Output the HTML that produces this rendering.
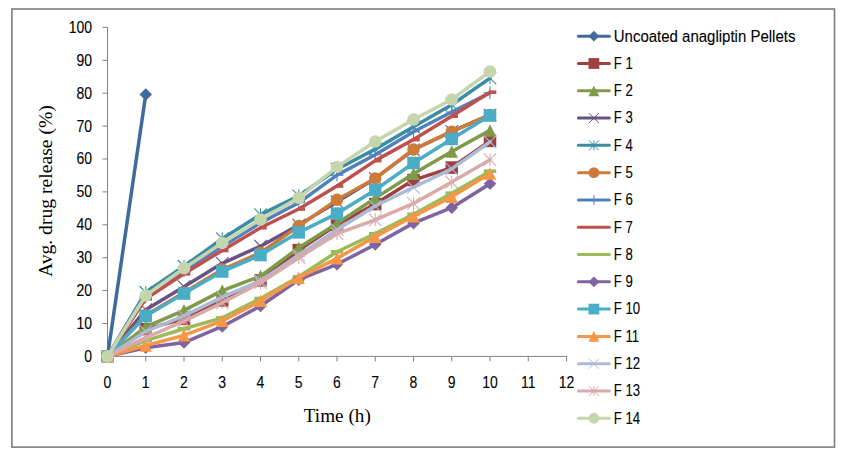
<!DOCTYPE html>
<html lang="en">
<head>
<meta charset="utf-8">
<title>Avg. drug release (%) vs Time (h)</title>
<style>html,body{margin:0;padding:0;background:#fff;overflow:hidden}body{width:842px;height:455px}</style>
</head>
<body>
<svg width="842" height="455" viewBox="0 0 842 455" style="display:block">
<rect x="0" y="0" width="842" height="455" fill="#ffffff"/>
<rect x="11.9" y="9" width="822.6" height="438.1" fill="none" stroke="#7C7C7C" stroke-width="1.6"/>
<g stroke="#808080" stroke-width="1" fill="none">
<path d="M107.50 27.40V356.40H566.50"/>
<path d="M102.50 356.40H107.50"/>
<path d="M102.50 323.50H107.50"/>
<path d="M102.50 290.60H107.50"/>
<path d="M102.50 257.70H107.50"/>
<path d="M102.50 224.80H107.50"/>
<path d="M102.50 191.90H107.50"/>
<path d="M102.50 159.00H107.50"/>
<path d="M102.50 126.10H107.50"/>
<path d="M102.50 93.20H107.50"/>
<path d="M102.50 60.30H107.50"/>
<path d="M102.50 27.40H107.50"/>
<path d="M107.50 356.40V361.40"/>
<path d="M145.75 356.40V361.40"/>
<path d="M184.00 356.40V361.40"/>
<path d="M222.25 356.40V361.40"/>
<path d="M260.50 356.40V361.40"/>
<path d="M298.75 356.40V361.40"/>
<path d="M337.00 356.40V361.40"/>
<path d="M375.25 356.40V361.40"/>
<path d="M413.50 356.40V361.40"/>
<path d="M451.75 356.40V361.40"/>
<path d="M490.00 356.40V361.40"/>
<path d="M528.25 356.40V361.40"/>
<path d="M566.50 356.40V361.40"/>
</g>
<g font-family="'Liberation Sans', sans-serif" font-size="15.9" fill="#000" stroke="#000" stroke-width="0.1">
<text transform="translate(92.0,361.80) scale(0.88,1)" text-anchor="end">0</text>
<text transform="translate(92.0,328.90) scale(0.88,1)" text-anchor="end">10</text>
<text transform="translate(92.0,296.00) scale(0.88,1)" text-anchor="end">20</text>
<text transform="translate(92.0,263.10) scale(0.88,1)" text-anchor="end">30</text>
<text transform="translate(92.0,230.20) scale(0.88,1)" text-anchor="end">40</text>
<text transform="translate(92.0,197.30) scale(0.88,1)" text-anchor="end">50</text>
<text transform="translate(92.0,164.40) scale(0.88,1)" text-anchor="end">60</text>
<text transform="translate(92.0,131.50) scale(0.88,1)" text-anchor="end">70</text>
<text transform="translate(92.0,98.60) scale(0.88,1)" text-anchor="end">80</text>
<text transform="translate(92.0,65.70) scale(0.88,1)" text-anchor="end">90</text>
<text transform="translate(92.0,32.80) scale(0.88,1)" text-anchor="end">100</text>
<text transform="translate(107.50,387.8) scale(0.88,1)" text-anchor="middle">0</text>
<text transform="translate(145.75,387.8) scale(0.88,1)" text-anchor="middle">1</text>
<text transform="translate(184.00,387.8) scale(0.88,1)" text-anchor="middle">2</text>
<text transform="translate(222.25,387.8) scale(0.88,1)" text-anchor="middle">3</text>
<text transform="translate(260.50,387.8) scale(0.88,1)" text-anchor="middle">4</text>
<text transform="translate(298.75,387.8) scale(0.88,1)" text-anchor="middle">5</text>
<text transform="translate(337.00,387.8) scale(0.88,1)" text-anchor="middle">6</text>
<text transform="translate(375.25,387.8) scale(0.88,1)" text-anchor="middle">7</text>
<text transform="translate(413.50,387.8) scale(0.88,1)" text-anchor="middle">8</text>
<text transform="translate(451.75,387.8) scale(0.88,1)" text-anchor="middle">9</text>
<text transform="translate(490.00,387.8) scale(0.88,1)" text-anchor="middle">10</text>
<text transform="translate(528.25,387.8) scale(0.88,1)" text-anchor="middle">11</text>
<text transform="translate(566.50,387.8) scale(0.88,1)" text-anchor="middle">12</text>
</g>
<g font-family="'Liberation Serif', serif" fill="#000">
<text x="337.3" y="421.9" font-size="19.2" text-anchor="middle">Time (h)</text>
<text transform="translate(52,191.1) rotate(-90)" font-size="19.65" text-anchor="middle">Avg. drug release (%)</text>
</g>
<g><polyline points="107.50,356.40 145.75,94.52" fill="none" stroke="#406A9C" stroke-width="3.5" stroke-linejoin="round" stroke-linecap="round"/>
<path d="M107.50 350.15L113.75 356.40L107.50 362.65L101.25 356.40Z" fill="#406A9C"/>
<path d="M145.75 88.27L152.00 94.52L145.75 100.77L139.50 94.52Z" fill="#406A9C"/>
</g>
<g><polyline points="107.50,356.40 145.75,329.09 184.00,318.89 222.25,300.47 260.50,280.40 298.75,250.13 337.00,224.80 375.25,204.07 413.50,180.06 451.75,167.55 490.00,140.90" fill="none" stroke="#9E413E" stroke-width="3.5" stroke-linejoin="round" stroke-linecap="round"/>
<rect x="101.25" y="350.15" width="12.50" height="12.50" fill="#9E413E"/>
<rect x="139.50" y="322.84" width="12.50" height="12.50" fill="#9E413E"/>
<rect x="177.75" y="312.64" width="12.50" height="12.50" fill="#9E413E"/>
<rect x="216.00" y="294.22" width="12.50" height="12.50" fill="#9E413E"/>
<rect x="254.25" y="274.15" width="12.50" height="12.50" fill="#9E413E"/>
<rect x="292.50" y="243.88" width="12.50" height="12.50" fill="#9E413E"/>
<rect x="330.75" y="218.55" width="12.50" height="12.50" fill="#9E413E"/>
<rect x="369.00" y="197.82" width="12.50" height="12.50" fill="#9E413E"/>
<rect x="407.25" y="173.81" width="12.50" height="12.50" fill="#9E413E"/>
<rect x="445.50" y="161.30" width="12.50" height="12.50" fill="#9E413E"/>
<rect x="483.75" y="134.65" width="12.50" height="12.50" fill="#9E413E"/>
</g>
<g><polyline points="107.50,356.40 145.75,326.79 184.00,310.34 222.25,290.60 260.50,276.12 298.75,247.83 337.00,223.48 375.25,198.15 413.50,173.80 451.75,151.43 490.00,130.38" fill="none" stroke="#7F9A48" stroke-width="3.5" stroke-linejoin="round" stroke-linecap="round"/>
<path d="M107.50 350.15L113.75 362.65L101.25 362.65Z" fill="#7F9A48"/>
<path d="M145.75 320.54L152.00 333.04L139.50 333.04Z" fill="#7F9A48"/>
<path d="M184.00 304.09L190.25 316.59L177.75 316.59Z" fill="#7F9A48"/>
<path d="M222.25 284.35L228.50 296.85L216.00 296.85Z" fill="#7F9A48"/>
<path d="M260.50 269.87L266.75 282.37L254.25 282.37Z" fill="#7F9A48"/>
<path d="M298.75 241.58L305.00 254.08L292.50 254.08Z" fill="#7F9A48"/>
<path d="M337.00 217.23L343.25 229.73L330.75 229.73Z" fill="#7F9A48"/>
<path d="M375.25 191.90L381.50 204.40L369.00 204.40Z" fill="#7F9A48"/>
<path d="M413.50 167.55L419.75 180.05L407.25 180.05Z" fill="#7F9A48"/>
<path d="M451.75 145.18L458.00 157.68L445.50 157.68Z" fill="#7F9A48"/>
<path d="M490.00 124.13L496.25 136.63L483.75 136.63Z" fill="#7F9A48"/>
</g>
<g><polyline points="107.50,356.40 145.75,309.68 184.00,286.65 222.25,263.29 260.50,246.18 298.75,225.13 337.00,201.77 375.25,178.41 413.50,149.79 451.75,131.36 490.00,114.91" fill="none" stroke="#695185" stroke-width="3.5" stroke-linejoin="round" stroke-linecap="round"/>
<path d="M101.25 350.15L113.75 362.65M113.75 350.15L101.25 362.65" stroke="#695185" stroke-width="1.1" fill="none"/>
<path d="M139.50 303.43L152.00 315.93M152.00 303.43L139.50 315.93" stroke="#695185" stroke-width="1.1" fill="none"/>
<path d="M177.75 280.40L190.25 292.90M190.25 280.40L177.75 292.90" stroke="#695185" stroke-width="1.1" fill="none"/>
<path d="M216.00 257.04L228.50 269.54M228.50 257.04L216.00 269.54" stroke="#695185" stroke-width="1.1" fill="none"/>
<path d="M254.25 239.93L266.75 252.43M266.75 239.93L254.25 252.43" stroke="#695185" stroke-width="1.1" fill="none"/>
<path d="M292.50 218.88L305.00 231.38M305.00 218.88L292.50 231.38" stroke="#695185" stroke-width="1.1" fill="none"/>
<path d="M330.75 195.52L343.25 208.02M343.25 195.52L330.75 208.02" stroke="#695185" stroke-width="1.1" fill="none"/>
<path d="M369.00 172.16L381.50 184.66M381.50 172.16L369.00 184.66" stroke="#695185" stroke-width="1.1" fill="none"/>
<path d="M407.25 143.54L419.75 156.04M419.75 143.54L407.25 156.04" stroke="#695185" stroke-width="1.1" fill="none"/>
<path d="M445.50 125.11L458.00 137.61M458.00 125.11L445.50 137.61" stroke="#695185" stroke-width="1.1" fill="none"/>
<path d="M483.75 108.66L496.25 121.16M496.25 108.66L483.75 121.16" stroke="#695185" stroke-width="1.1" fill="none"/>
</g>
<g><polyline points="107.50,356.40 145.75,292.25 184.00,266.25 222.25,238.62 260.50,214.60 298.75,195.85 337.00,169.20 375.25,149.13 413.50,126.76 451.75,104.71 490.00,78.07" fill="none" stroke="#3C8DA3" stroke-width="3.5" stroke-linejoin="round" stroke-linecap="round"/>
<path d="M101.25 350.15L113.75 362.65M113.75 350.15L101.25 362.65M107.50 350.15L107.50 362.65" stroke="#3C8DA3" stroke-width="1.1" fill="none"/>
<path d="M139.50 286.00L152.00 298.50M152.00 286.00L139.50 298.50M145.75 286.00L145.75 298.50" stroke="#3C8DA3" stroke-width="1.1" fill="none"/>
<path d="M177.75 260.00L190.25 272.50M190.25 260.00L177.75 272.50M184.00 260.00L184.00 272.50" stroke="#3C8DA3" stroke-width="1.1" fill="none"/>
<path d="M216.00 232.37L228.50 244.87M228.50 232.37L216.00 244.87M222.25 232.37L222.25 244.87" stroke="#3C8DA3" stroke-width="1.1" fill="none"/>
<path d="M254.25 208.35L266.75 220.85M266.75 208.35L254.25 220.85M260.50 208.35L260.50 220.85" stroke="#3C8DA3" stroke-width="1.1" fill="none"/>
<path d="M292.50 189.60L305.00 202.10M305.00 189.60L292.50 202.10M298.75 189.60L298.75 202.10" stroke="#3C8DA3" stroke-width="1.1" fill="none"/>
<path d="M330.75 162.95L343.25 175.45M343.25 162.95L330.75 175.45M337.00 162.95L337.00 175.45" stroke="#3C8DA3" stroke-width="1.1" fill="none"/>
<path d="M369.00 142.88L381.50 155.38M381.50 142.88L369.00 155.38M375.25 142.88L375.25 155.38" stroke="#3C8DA3" stroke-width="1.1" fill="none"/>
<path d="M407.25 120.51L419.75 133.01M419.75 120.51L407.25 133.01M413.50 120.51L413.50 133.01" stroke="#3C8DA3" stroke-width="1.1" fill="none"/>
<path d="M445.50 98.46L458.00 110.96M458.00 98.46L445.50 110.96M451.75 98.46L451.75 110.96" stroke="#3C8DA3" stroke-width="1.1" fill="none"/>
<path d="M483.75 71.82L496.25 84.32M496.25 71.82L483.75 84.32M490.00 71.82L490.00 84.32" stroke="#3C8DA3" stroke-width="1.1" fill="none"/>
</g>
<g><polyline points="107.50,356.40 145.75,315.27 184.00,292.57 222.25,269.54 260.50,252.76 298.75,226.12 337.00,199.80 375.25,178.41 413.50,149.46 451.75,131.69 490.00,114.91" fill="none" stroke="#CC7B38" stroke-width="3.5" stroke-linejoin="round" stroke-linecap="round"/>
<circle cx="107.50" cy="356.40" r="6.25" fill="#CC7B38"/>
<circle cx="145.75" cy="315.27" r="6.25" fill="#CC7B38"/>
<circle cx="184.00" cy="292.57" r="6.25" fill="#CC7B38"/>
<circle cx="222.25" cy="269.54" r="6.25" fill="#CC7B38"/>
<circle cx="260.50" cy="252.76" r="6.25" fill="#CC7B38"/>
<circle cx="298.75" cy="226.12" r="6.25" fill="#CC7B38"/>
<circle cx="337.00" cy="199.80" r="6.25" fill="#CC7B38"/>
<circle cx="375.25" cy="178.41" r="6.25" fill="#CC7B38"/>
<circle cx="413.50" cy="149.46" r="6.25" fill="#CC7B38"/>
<circle cx="451.75" cy="131.69" r="6.25" fill="#CC7B38"/>
<circle cx="490.00" cy="114.91" r="6.25" fill="#CC7B38"/>
</g>
<g><polyline points="107.50,356.40 145.75,297.18 184.00,270.86 222.25,246.18 260.50,222.83 298.75,202.76 337.00,175.12 375.25,154.72 413.50,131.69 451.75,111.95 490.00,92.87" fill="none" stroke="#4F81BD" stroke-width="3.5" stroke-linejoin="round" stroke-linecap="round"/>
<path d="M107.50 350.15L107.50 362.65M101.25 356.40L113.75 356.40" stroke="#4F81BD" stroke-width="1.1" fill="none"/>
<path d="M145.75 290.93L145.75 303.43M139.50 297.18L152.00 297.18" stroke="#4F81BD" stroke-width="1.1" fill="none"/>
<path d="M184.00 264.61L184.00 277.11M177.75 270.86L190.25 270.86" stroke="#4F81BD" stroke-width="1.1" fill="none"/>
<path d="M222.25 239.93L222.25 252.43M216.00 246.18L228.50 246.18" stroke="#4F81BD" stroke-width="1.1" fill="none"/>
<path d="M260.50 216.58L260.50 229.08M254.25 222.83L266.75 222.83" stroke="#4F81BD" stroke-width="1.1" fill="none"/>
<path d="M298.75 196.51L298.75 209.01M292.50 202.76L305.00 202.76" stroke="#4F81BD" stroke-width="1.1" fill="none"/>
<path d="M337.00 168.87L337.00 181.37M330.75 175.12L343.25 175.12" stroke="#4F81BD" stroke-width="1.1" fill="none"/>
<path d="M375.25 148.47L375.25 160.97M369.00 154.72L381.50 154.72" stroke="#4F81BD" stroke-width="1.1" fill="none"/>
<path d="M413.50 125.44L413.50 137.94M407.25 131.69L419.75 131.69" stroke="#4F81BD" stroke-width="1.1" fill="none"/>
<path d="M451.75 105.70L451.75 118.20M445.50 111.95L458.00 111.95" stroke="#4F81BD" stroke-width="1.1" fill="none"/>
<path d="M490.00 86.62L490.00 99.12M483.75 92.87L496.25 92.87" stroke="#4F81BD" stroke-width="1.1" fill="none"/>
</g>
<g><polyline points="107.50,356.40 145.75,298.82 184.00,273.82 222.25,250.46 260.50,227.76 298.75,209.01 337.00,185.98 375.25,160.64 413.50,139.59 451.75,116.23 490.00,92.21" fill="none" stroke="#C0504D" stroke-width="3.5" stroke-linejoin="round" stroke-linecap="round"/>
<rect x="106.50" y="354.60" width="7.25" height="3.6" fill="#C0504D"/>
<rect x="144.75" y="297.02" width="7.25" height="3.6" fill="#C0504D"/>
<rect x="183.00" y="272.02" width="7.25" height="3.6" fill="#C0504D"/>
<rect x="221.25" y="248.66" width="7.25" height="3.6" fill="#C0504D"/>
<rect x="259.50" y="225.96" width="7.25" height="3.6" fill="#C0504D"/>
<rect x="297.75" y="207.21" width="7.25" height="3.6" fill="#C0504D"/>
<rect x="336.00" y="184.18" width="7.25" height="3.6" fill="#C0504D"/>
<rect x="374.25" y="158.84" width="7.25" height="3.6" fill="#C0504D"/>
<rect x="412.50" y="137.79" width="7.25" height="3.6" fill="#C0504D"/>
<rect x="450.75" y="114.43" width="7.25" height="3.6" fill="#C0504D"/>
<rect x="489.00" y="90.41" width="7.25" height="3.6" fill="#C0504D"/>
</g>
<g><polyline points="107.50,356.40 145.75,340.61 184.00,328.76 222.25,317.91 260.50,298.50 298.75,276.78 337.00,251.78 375.25,233.68 413.50,214.27 451.75,193.22 490.00,171.17" fill="none" stroke="#9BBB59" stroke-width="3.5" stroke-linejoin="round" stroke-linecap="round"/>
<rect x="101.25" y="354.60" width="12.50" height="3.6" fill="#9BBB59"/>
<rect x="139.50" y="338.81" width="12.50" height="3.6" fill="#9BBB59"/>
<rect x="177.75" y="326.96" width="12.50" height="3.6" fill="#9BBB59"/>
<rect x="216.00" y="316.11" width="12.50" height="3.6" fill="#9BBB59"/>
<rect x="254.25" y="296.70" width="12.50" height="3.6" fill="#9BBB59"/>
<rect x="292.50" y="274.98" width="12.50" height="3.6" fill="#9BBB59"/>
<rect x="330.75" y="249.98" width="12.50" height="3.6" fill="#9BBB59"/>
<rect x="369.00" y="231.88" width="12.50" height="3.6" fill="#9BBB59"/>
<rect x="407.25" y="212.47" width="12.50" height="3.6" fill="#9BBB59"/>
<rect x="445.50" y="191.42" width="12.50" height="3.6" fill="#9BBB59"/>
<rect x="483.75" y="169.37" width="12.50" height="3.6" fill="#9BBB59"/>
</g>
<g><polyline points="107.50,356.40 145.75,347.85 184.00,342.58 222.25,326.46 260.50,306.06 298.75,279.74 337.00,264.28 375.25,244.54 413.50,223.15 451.75,207.69 490.00,183.67" fill="none" stroke="#8064A2" stroke-width="3.5" stroke-linejoin="round" stroke-linecap="round"/>
<path d="M107.50 350.15L113.75 356.40L107.50 362.65L101.25 356.40Z" fill="#8064A2"/>
<path d="M145.75 341.60L152.00 347.85L145.75 354.10L139.50 347.85Z" fill="#8064A2"/>
<path d="M184.00 336.33L190.25 342.58L184.00 348.83L177.75 342.58Z" fill="#8064A2"/>
<path d="M222.25 320.21L228.50 326.46L222.25 332.71L216.00 326.46Z" fill="#8064A2"/>
<path d="M260.50 299.81L266.75 306.06L260.50 312.31L254.25 306.06Z" fill="#8064A2"/>
<path d="M298.75 273.49L305.00 279.74L298.75 285.99L292.50 279.74Z" fill="#8064A2"/>
<path d="M337.00 258.03L343.25 264.28L337.00 270.53L330.75 264.28Z" fill="#8064A2"/>
<path d="M375.25 238.29L381.50 244.54L375.25 250.79L369.00 244.54Z" fill="#8064A2"/>
<path d="M413.50 216.90L419.75 223.15L413.50 229.40L407.25 223.15Z" fill="#8064A2"/>
<path d="M451.75 201.44L458.00 207.69L451.75 213.94L445.50 207.69Z" fill="#8064A2"/>
<path d="M490.00 177.42L496.25 183.67L490.00 189.92L483.75 183.67Z" fill="#8064A2"/>
</g>
<g><polyline points="107.50,356.40 145.75,315.93 184.00,293.56 222.25,271.52 260.50,255.07 298.75,232.37 337.00,213.61 375.25,189.93 413.50,162.95 451.75,138.93 490.00,115.57" fill="none" stroke="#4BACC6" stroke-width="3.5" stroke-linejoin="round" stroke-linecap="round"/>
<rect x="101.25" y="350.15" width="12.50" height="12.50" fill="#4BACC6"/>
<rect x="139.50" y="309.68" width="12.50" height="12.50" fill="#4BACC6"/>
<rect x="177.75" y="287.31" width="12.50" height="12.50" fill="#4BACC6"/>
<rect x="216.00" y="265.27" width="12.50" height="12.50" fill="#4BACC6"/>
<rect x="254.25" y="248.82" width="12.50" height="12.50" fill="#4BACC6"/>
<rect x="292.50" y="226.12" width="12.50" height="12.50" fill="#4BACC6"/>
<rect x="330.75" y="207.36" width="12.50" height="12.50" fill="#4BACC6"/>
<rect x="369.00" y="183.68" width="12.50" height="12.50" fill="#4BACC6"/>
<rect x="407.25" y="156.70" width="12.50" height="12.50" fill="#4BACC6"/>
<rect x="445.50" y="132.68" width="12.50" height="12.50" fill="#4BACC6"/>
<rect x="483.75" y="109.32" width="12.50" height="12.50" fill="#4BACC6"/>
</g>
<g><polyline points="107.50,356.40 145.75,345.54 184.00,335.34 222.25,320.87 260.50,300.80 298.75,277.77 337.00,258.36 375.25,236.64 413.50,216.25 451.75,196.83 490.00,173.48" fill="none" stroke="#F79646" stroke-width="3.5" stroke-linejoin="round" stroke-linecap="round"/>
<path d="M107.50 350.15L113.75 362.65L101.25 362.65Z" fill="#F79646"/>
<path d="M145.75 339.29L152.00 351.79L139.50 351.79Z" fill="#F79646"/>
<path d="M184.00 329.09L190.25 341.59L177.75 341.59Z" fill="#F79646"/>
<path d="M222.25 314.62L228.50 327.12L216.00 327.12Z" fill="#F79646"/>
<path d="M260.50 294.55L266.75 307.05L254.25 307.05Z" fill="#F79646"/>
<path d="M298.75 271.52L305.00 284.02L292.50 284.02Z" fill="#F79646"/>
<path d="M337.00 252.11L343.25 264.61L330.75 264.61Z" fill="#F79646"/>
<path d="M375.25 230.39L381.50 242.89L369.00 242.89Z" fill="#F79646"/>
<path d="M413.50 210.00L419.75 222.50L407.25 222.50Z" fill="#F79646"/>
<path d="M451.75 190.58L458.00 203.08L445.50 203.08Z" fill="#F79646"/>
<path d="M490.00 167.23L496.25 179.73L483.75 179.73Z" fill="#F79646"/>
</g>
<g><polyline points="107.50,356.40 145.75,331.40 184.00,315.93 222.25,297.18 260.50,280.73 298.75,255.07 337.00,229.73 375.25,206.05 413.50,187.29 451.75,168.87 490.00,141.89" fill="none" stroke="#AABAD7" stroke-width="3.5" stroke-linejoin="round" stroke-linecap="round"/>
<path d="M101.25 350.15L113.75 362.65M113.75 350.15L101.25 362.65" stroke="#AABAD7" stroke-width="1.1" fill="none"/>
<path d="M139.50 325.15L152.00 337.65M152.00 325.15L139.50 337.65" stroke="#AABAD7" stroke-width="1.1" fill="none"/>
<path d="M177.75 309.68L190.25 322.18M190.25 309.68L177.75 322.18" stroke="#AABAD7" stroke-width="1.1" fill="none"/>
<path d="M216.00 290.93L228.50 303.43M228.50 290.93L216.00 303.43" stroke="#AABAD7" stroke-width="1.1" fill="none"/>
<path d="M254.25 274.48L266.75 286.98M266.75 274.48L254.25 286.98" stroke="#AABAD7" stroke-width="1.1" fill="none"/>
<path d="M292.50 248.82L305.00 261.32M305.00 248.82L292.50 261.32" stroke="#AABAD7" stroke-width="1.1" fill="none"/>
<path d="M330.75 223.48L343.25 235.98M343.25 223.48L330.75 235.98" stroke="#AABAD7" stroke-width="1.1" fill="none"/>
<path d="M369.00 199.80L381.50 212.30M381.50 199.80L369.00 212.30" stroke="#AABAD7" stroke-width="1.1" fill="none"/>
<path d="M407.25 181.04L419.75 193.54M419.75 181.04L407.25 193.54" stroke="#AABAD7" stroke-width="1.1" fill="none"/>
<path d="M445.50 162.62L458.00 175.12M458.00 162.62L445.50 175.12" stroke="#AABAD7" stroke-width="1.1" fill="none"/>
<path d="M483.75 135.64L496.25 148.14M496.25 135.64L483.75 148.14" stroke="#AABAD7" stroke-width="1.1" fill="none"/>
</g>
<g><polyline points="107.50,356.40 145.75,337.65 184.00,321.20 222.25,302.77 260.50,282.70 298.75,257.70 337.00,233.68 375.25,219.86 413.50,203.41 451.75,182.03 490.00,159.66" fill="none" stroke="#D9AAA9" stroke-width="3.5" stroke-linejoin="round" stroke-linecap="round"/>
<path d="M101.25 350.15L113.75 362.65M113.75 350.15L101.25 362.65M107.50 350.15L107.50 362.65" stroke="#D9AAA9" stroke-width="1.1" fill="none"/>
<path d="M139.50 331.40L152.00 343.90M152.00 331.40L139.50 343.90M145.75 331.40L145.75 343.90" stroke="#D9AAA9" stroke-width="1.1" fill="none"/>
<path d="M177.75 314.95L190.25 327.45M190.25 314.95L177.75 327.45M184.00 314.95L184.00 327.45" stroke="#D9AAA9" stroke-width="1.1" fill="none"/>
<path d="M216.00 296.52L228.50 309.02M228.50 296.52L216.00 309.02M222.25 296.52L222.25 309.02" stroke="#D9AAA9" stroke-width="1.1" fill="none"/>
<path d="M254.25 276.45L266.75 288.95M266.75 276.45L254.25 288.95M260.50 276.45L260.50 288.95" stroke="#D9AAA9" stroke-width="1.1" fill="none"/>
<path d="M292.50 251.45L305.00 263.95M305.00 251.45L292.50 263.95M298.75 251.45L298.75 263.95" stroke="#D9AAA9" stroke-width="1.1" fill="none"/>
<path d="M330.75 227.43L343.25 239.93M343.25 227.43L330.75 239.93M337.00 227.43L337.00 239.93" stroke="#D9AAA9" stroke-width="1.1" fill="none"/>
<path d="M369.00 213.61L381.50 226.11M381.50 213.61L369.00 226.11M375.25 213.61L375.25 226.11" stroke="#D9AAA9" stroke-width="1.1" fill="none"/>
<path d="M407.25 197.16L419.75 209.66M419.75 197.16L407.25 209.66M413.50 197.16L413.50 209.66" stroke="#D9AAA9" stroke-width="1.1" fill="none"/>
<path d="M445.50 175.78L458.00 188.28M458.00 175.78L445.50 188.28M451.75 175.78L451.75 188.28" stroke="#D9AAA9" stroke-width="1.1" fill="none"/>
<path d="M483.75 153.41L496.25 165.91M496.25 153.41L483.75 165.91M490.00 153.41L490.00 165.91" stroke="#D9AAA9" stroke-width="1.1" fill="none"/>
</g>
<g><polyline points="107.50,356.40 145.75,295.53 184.00,268.23 222.25,242.89 260.50,219.54 298.75,197.82 337.00,166.90 375.25,141.56 413.50,119.52 451.75,99.45 490.00,71.49" fill="none" stroke="#C6D6AC" stroke-width="3.5" stroke-linejoin="round" stroke-linecap="round"/>
<circle cx="107.50" cy="356.40" r="6.25" fill="#C6D6AC"/>
<circle cx="145.75" cy="295.53" r="6.25" fill="#C6D6AC"/>
<circle cx="184.00" cy="268.23" r="6.25" fill="#C6D6AC"/>
<circle cx="222.25" cy="242.89" r="6.25" fill="#C6D6AC"/>
<circle cx="260.50" cy="219.54" r="6.25" fill="#C6D6AC"/>
<circle cx="298.75" cy="197.82" r="6.25" fill="#C6D6AC"/>
<circle cx="337.00" cy="166.90" r="6.25" fill="#C6D6AC"/>
<circle cx="375.25" cy="141.56" r="6.25" fill="#C6D6AC"/>
<circle cx="413.50" cy="119.52" r="6.25" fill="#C6D6AC"/>
<circle cx="451.75" cy="99.45" r="6.25" fill="#C6D6AC"/>
<circle cx="490.00" cy="71.49" r="6.25" fill="#C6D6AC"/>
</g>
<g font-family="'Liberation Sans', sans-serif" font-size="15.8" fill="#000">
<path d="M578.4 36.20H609.4" stroke="#406A9C" stroke-width="3" stroke-linecap="round" fill="none"/>
<path d="M593.90 30.80L599.30 36.20L593.90 41.60L588.50 36.20Z" fill="#406A9C"/>
<text transform="translate(613.8,41.50) scale(0.949,1)" stroke="#000" stroke-width="0.1">Uncoated anagliptin Pellets</text>
<path d="M578.4 63.49H609.4" stroke="#9E413E" stroke-width="3" stroke-linecap="round" fill="none"/>
<rect x="588.50" y="58.09" width="10.80" height="10.80" fill="#9E413E"/>
<text transform="translate(613.8,68.79) scale(0.835,1)" stroke="#000" stroke-width="0.1">F 1</text>
<path d="M578.4 90.78H609.4" stroke="#7F9A48" stroke-width="3" stroke-linecap="round" fill="none"/>
<path d="M593.90 85.38L599.30 96.18L588.50 96.18Z" fill="#7F9A48"/>
<text transform="translate(613.8,96.08) scale(0.835,1)" stroke="#000" stroke-width="0.1">F 2</text>
<path d="M578.4 118.07H609.4" stroke="#695185" stroke-width="3" stroke-linecap="round" fill="none"/>
<path d="M588.90 113.07L598.90 123.07M598.90 113.07L588.90 123.07" stroke="#695185" stroke-width="1.0" fill="none"/>
<text transform="translate(613.8,123.37) scale(0.835,1)" stroke="#000" stroke-width="0.1">F 3</text>
<path d="M578.4 145.36H609.4" stroke="#3C8DA3" stroke-width="3" stroke-linecap="round" fill="none"/>
<path d="M588.90 140.36L598.90 150.36M598.90 140.36L588.90 150.36M593.90 140.36L593.90 150.36" stroke="#3C8DA3" stroke-width="1.0" fill="none"/>
<text transform="translate(613.8,150.66) scale(0.835,1)" stroke="#000" stroke-width="0.1">F 4</text>
<path d="M578.4 172.65H609.4" stroke="#CC7B38" stroke-width="3" stroke-linecap="round" fill="none"/>
<circle cx="593.90" cy="172.65" r="5.40" fill="#CC7B38"/>
<text transform="translate(613.8,177.95) scale(0.835,1)" stroke="#000" stroke-width="0.1">F 5</text>
<path d="M578.4 199.94H609.4" stroke="#4F81BD" stroke-width="3" stroke-linecap="round" fill="none"/>
<path d="M593.90 194.94L593.90 204.94M588.90 199.94L598.90 199.94" stroke="#4F81BD" stroke-width="1.0" fill="none"/>
<text transform="translate(613.8,205.24) scale(0.835,1)" stroke="#000" stroke-width="0.1">F 6</text>
<path d="M578.4 227.23H609.4" stroke="#C0504D" stroke-width="3" stroke-linecap="round" fill="none"/>
<text transform="translate(613.8,232.53) scale(0.835,1)" stroke="#000" stroke-width="0.1">F 7</text>
<path d="M578.4 254.52H609.4" stroke="#9BBB59" stroke-width="3" stroke-linecap="round" fill="none"/>
<text transform="translate(613.8,259.82) scale(0.835,1)" stroke="#000" stroke-width="0.1">F 8</text>
<path d="M578.4 281.81H609.4" stroke="#8064A2" stroke-width="3" stroke-linecap="round" fill="none"/>
<path d="M593.90 276.41L599.30 281.81L593.90 287.21L588.50 281.81Z" fill="#8064A2"/>
<text transform="translate(613.8,287.11) scale(0.835,1)" stroke="#000" stroke-width="0.1">F 9</text>
<path d="M578.4 309.10H609.4" stroke="#4BACC6" stroke-width="3" stroke-linecap="round" fill="none"/>
<rect x="588.50" y="303.70" width="10.80" height="10.80" fill="#4BACC6"/>
<text transform="translate(613.8,314.40) scale(0.835,1)" stroke="#000" stroke-width="0.1">F 10</text>
<path d="M578.4 336.39H609.4" stroke="#F79646" stroke-width="3" stroke-linecap="round" fill="none"/>
<path d="M593.90 330.99L599.30 341.79L588.50 341.79Z" fill="#F79646"/>
<text transform="translate(613.8,341.69) scale(0.835,1)" stroke="#000" stroke-width="0.1">F 11</text>
<path d="M578.4 363.68H609.4" stroke="#AABAD7" stroke-width="3" stroke-linecap="round" fill="none"/>
<path d="M588.90 358.68L598.90 368.68M598.90 358.68L588.90 368.68" stroke="#AABAD7" stroke-width="1.0" fill="none"/>
<text transform="translate(613.8,368.98) scale(0.835,1)" stroke="#000" stroke-width="0.1">F 12</text>
<path d="M578.4 390.97H609.4" stroke="#D9AAA9" stroke-width="3" stroke-linecap="round" fill="none"/>
<path d="M588.90 385.97L598.90 395.97M598.90 385.97L588.90 395.97M593.90 385.97L593.90 395.97" stroke="#D9AAA9" stroke-width="1.0" fill="none"/>
<text transform="translate(613.8,396.27) scale(0.835,1)" stroke="#000" stroke-width="0.1">F 13</text>
<path d="M578.4 418.26H609.4" stroke="#C6D6AC" stroke-width="3" stroke-linecap="round" fill="none"/>
<circle cx="593.90" cy="418.26" r="5.40" fill="#C6D6AC"/>
<text transform="translate(613.8,423.56) scale(0.835,1)" stroke="#000" stroke-width="0.1">F 14</text>
</g>
</svg>
</body>
</html>
